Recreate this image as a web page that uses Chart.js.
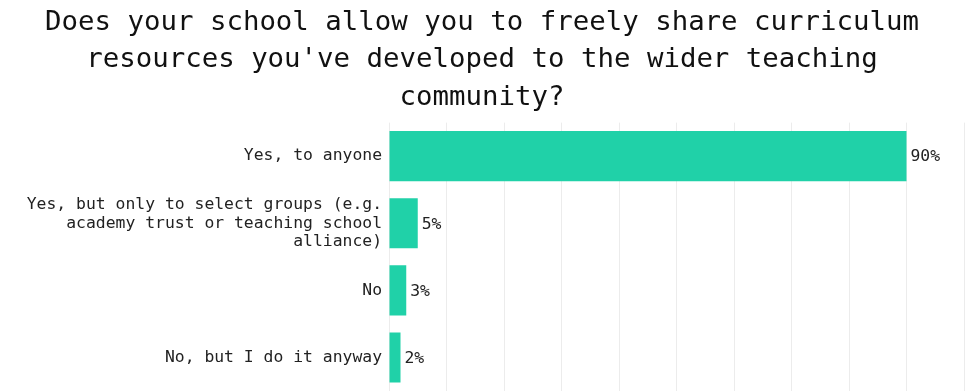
<!DOCTYPE html>
<html>
<head>
<meta charset="utf-8">
<script src="https://cdn.jsdelivr.net/npm/chart.js@4"></script>
<style>
  html, body { margin: 0; padding: 0; background: #fff; }
  #wrap { width: 968px; height: 391px; position: relative; }
</style>
</head>
<body>
<div id="wrap"><canvas id="ChartOfAnswers"></canvas></div>
<script>
// Подписи категорий и значения в процентах.
var CATEGORIES = [
  'Yes, to anyone',
  ['Yes, but only to select groups (e.g.', 'academy trust or teaching school', 'alliance)'],
  'No',
  'No, but I do it anyway'
];
var PERCENTS = [90, 5, 3, 2];
var TITLE_LINES = [
  'Does your school allow you to freely share curriculum',
  'resources you\'ve developed to the wider teaching',
  'community?'
];

var FONT = '"DejaVu Sans Mono", "Liberation Mono", monospace';

// Подписи значений справа от столбцов.
var valueLabels = {
  id: 'valueLabels',
  afterDatasetsDraw: function(chart) {
    var ctx = chart.ctx;
    var meta = chart.getDatasetMeta(0);
    ctx.save();
    ctx.font = '16.4px ' + FONT;
    ctx.fillStyle = '#222';
    ctx.textAlign = 'left';
    ctx.textBaseline = 'middle';
    meta.data.forEach(function(bar, index) {
      ctx.fillText(PERCENTS[index] + '%', bar.x + 4, bar.y + 1);
    });
    ctx.restore();
  }
};

var ctxChart = document.getElementById('ChartOfAnswers');

var ChartOfAnswers = new Chart(ctxChart, {
  type: 'bar',
  data: {
    labels: CATEGORIES,
    datasets: [
      {
        data: PERCENTS,
        backgroundColor: '#20d1a8',
        borderWidth: 0,
        barPercentage: 0.83,
        categoryPercentage: 0.9
      }
    ]
  },
  options: {
    indexAxis: 'y',
    responsive: true,
    maintainAspectRatio: false,
    animation: false,
    layout: {
      padding: { left: 0, right: 4, top: 0, bottom: 0 }
    },
    plugins: {
      legend: { display: false },
      tooltip: { enabled: false },
      title: {
        display: true,
        text: TITLE_LINES,
        color: '#111',
        font: { family: FONT, size: 27.4, weight: 'normal', lineHeight: 1.37 },
        padding: { top: 4, bottom: 6 }
      }
    },
    scales: {
      x: {
        min: 0,
        max: 100,
        ticks: { display: false, stepSize: 10 },
        grid: { color: '#ececec', drawTicks: false },
        border: { display: false }
      },
      y: {
        ticks: {
          color: '#222',
          padding: 7,
          font: { family: FONT, size: 16.4, lineHeight: 1.1 }
        },
        grid: { display: false, drawTicks: false },
        border: { display: false },
        // ширина оси под подписи, без отступов сверху и снизу
        afterFit: function(scale) {
          scale.width = 389;
          scale.paddingTop = 0;
          scale.paddingBottom = 0;
        }
      }
    }
  },
  plugins: [valueLabels]
});
</script>
</body>
</html>
